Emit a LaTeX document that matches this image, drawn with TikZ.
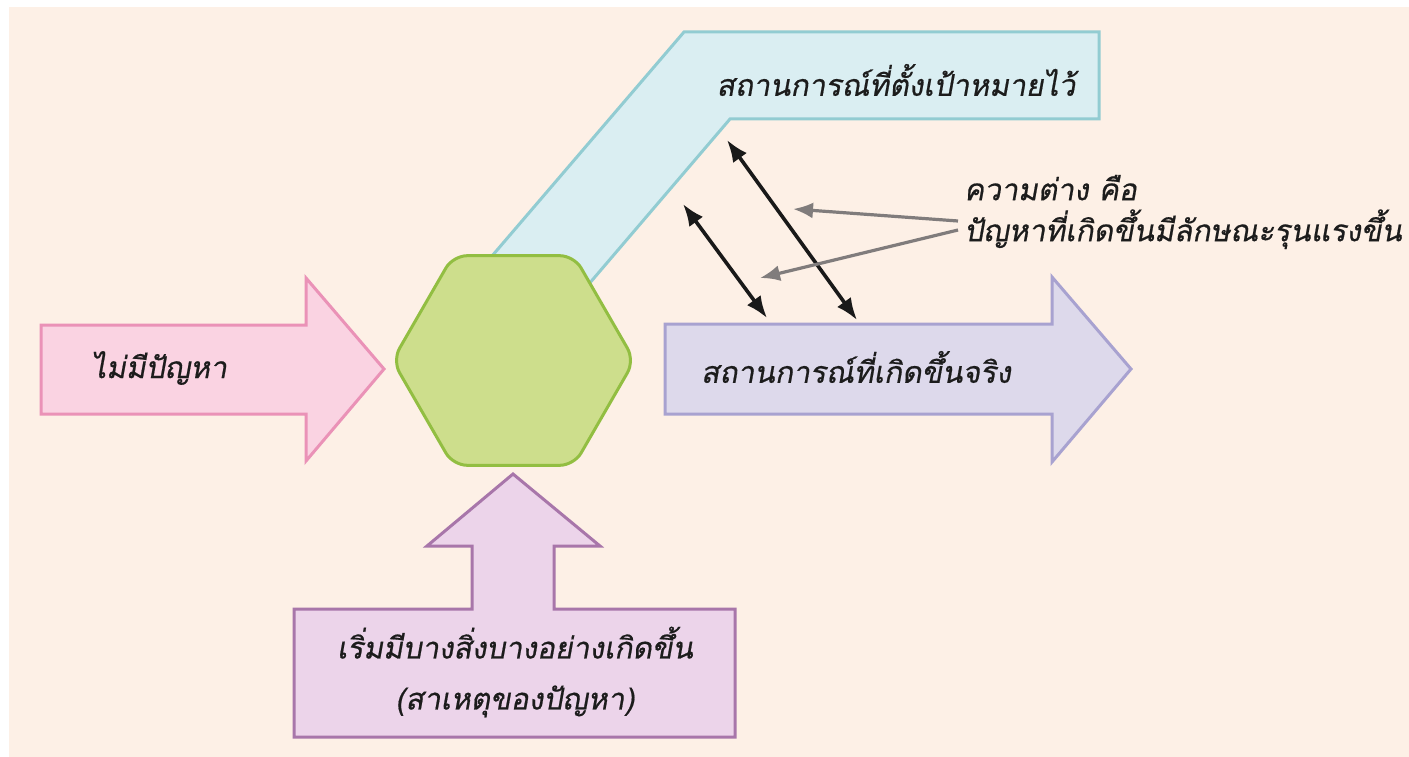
\documentclass[tikz,border=0pt]{standalone}
\usepackage{fontspec}
\newfontfamily\thaifont[Script=Thai,FakeSlant=0.18,FakeBold=0.6]{Loma}
\usetikzlibrary{arrows.meta,shapes.geometric}
\definecolor{bgc}{RGB}{253,240,230}
\definecolor{pinkf}{RGB}{250,211,226}
\definecolor{pinkd}{RGB}{234,146,183}
\definecolor{greenf}{RGB}{205,222,140}
\definecolor{greend}{RGB}{146,190,66}
\definecolor{bluef}{RGB}{218,238,242}
\definecolor{blued}{RGB}{146,204,210}
\definecolor{lavf}{RGB}{221,217,235}
\definecolor{lavd}{RGB}{168,162,208}
\definecolor{mauf}{RGB}{236,212,234}
\definecolor{maud}{RGB}{168,118,170}
\definecolor{grayarr}{RGB}{128,124,124}
\definecolor{txt}{RGB}{28,28,28}
\tikzset{
  shapebox/.style={line width=3pt, line join=miter},
  pinkshape/.style={shapebox, fill=pinkf, draw=pinkd},
  lavshape/.style={shapebox, fill=lavf, draw=lavd},
  maushape/.style={shapebox, fill=mauf, draw=maud},
  bandshape/.style={shapebox, fill=bluef, draw=blued},
  hexshape/.style={regular polygon, regular polygon sides=6, minimum size=242pt, inner sep=0pt,
     fill=greenf, draw=greend, line width=3pt, rounded corners=14pt},
  label/.style={font=\thaifont\fontsize{30}{36}\selectfont, text=txt, inner sep=0pt},
  twohead/.style={line width=3.6pt, black!90, {Latex[length=22pt,width=17pt]}-{Latex[length=22pt,width=17pt]}},
  pointer/.style={line width=3.2pt, grayarr, -{Latex[length=20pt,width=16pt]}}
}
\begin{document}
\begin{tikzpicture}[x=1pt,y=-1pt]
\useasboundingbox (0,0) rectangle (1409,757);
\fill[bgc] (9,7) rectangle (1409,757);
% goal band
\draw[bandshape] (684,32) -- (1099,32) -- (1099,119) -- (730,119) -- (559,319) -- (438,319) -- cycle;
\node[label] (goal) at (896,80) {สถานการณ์ที่ตั้งเป้าหมายไว้};
% hexagon
\node[hexshape] (hex) at (513.5,360.5) {};
% left arrow
\draw[pinkshape] (41,325) -- (306,325) -- (306,278) -- (384,369) -- (306,461) -- (306,414) -- (41,414) -- cycle;
\node[label] (noprob) at (159,368) {ไม่มีปัญหา};
% right arrow
\draw[lavshape] (665,324) -- (1052,324) -- (1052,277) -- (1131,369) -- (1052,462) -- (1052,414) -- (665,414) -- cycle;
\node[label] (actual) at (856,367) {สถานการณ์ที่เกิดขึ้นจริง};
% bottom arrow
\draw[maushape] (294,609) -- (472,609) -- (472,546) -- (427,546) -- (513,474) -- (600,546) -- (554,546) -- (554,609) -- (735,609) -- (735,737) -- (294,737) -- cycle;
\node[label, align=center, font=\thaifont\fontsize{30}{51}\selectfont] (cause) at (515,672) {เริ่มมีบางสิ่งบางอย่างเกิดขึ้น\\(สาเหตุของปัญหา)};
% gap arrows
\coordinate (a1) at (683,204);
\coordinate (a2) at (767,318);
\coordinate (b1) at (727,140);
\coordinate (b2) at (857,320);
\draw[twohead] (a1) -- (a2);
\draw[twohead] (b1) -- (b2);
% explanation
\node[label, align=left, anchor=west, font=\thaifont\fontsize{30}{41}\selectfont] (diff) at (964,212) {ความต่าง คือ\\ปัญหาที่เกิดขึ้นมีลักษณะรุนแรงขึ้น};
\coordinate (g1s) at (958,221);
\coordinate (g1e) at (793,209);
\coordinate (g2s) at (958,230);
\coordinate (g2e) at (760,278);
\draw[pointer] (g1s) -- (g1e);
\draw[pointer] (g2s) -- (g2e);
\end{tikzpicture}
\end{document}
